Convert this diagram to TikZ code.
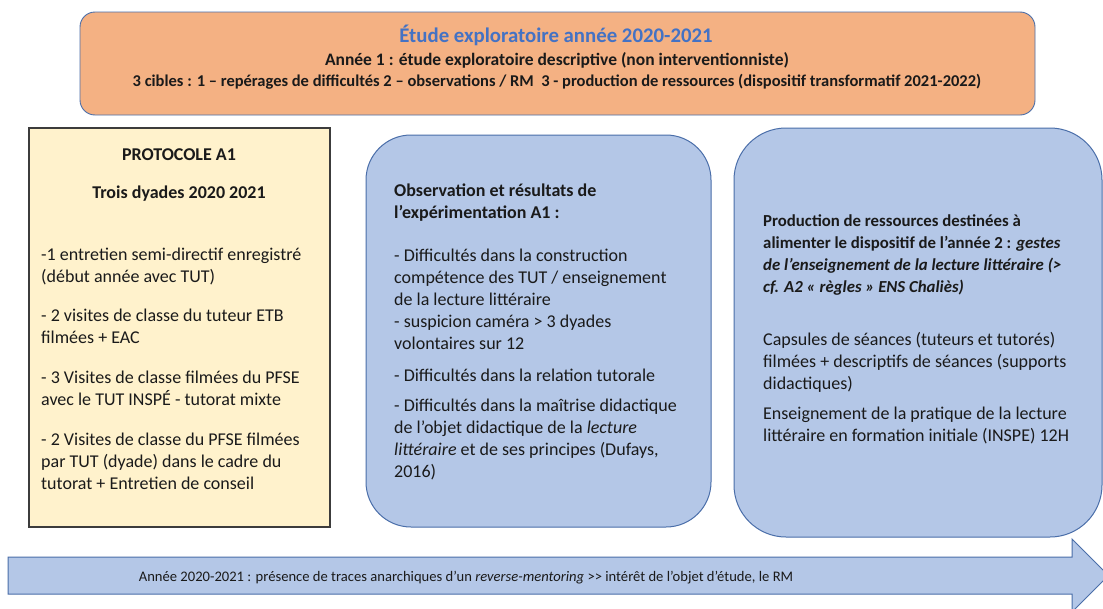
\documentclass[tikz,border=0pt]{standalone}
\usepackage{fontspec}
\setmainfont{Carlito}
\definecolor{orfill}{HTML}{F4B183}
\definecolor{yefill}{HTML}{FFF2CC}
\definecolor{blfill}{HTML}{B4C7E7}
\definecolor{bldraw}{HTML}{4A6EA9}
\definecolor{titleblue}{HTML}{4472C4}
\definecolor{greydraw}{HTML}{3C3C3C}
\definecolor{txt}{HTML}{1A1A1A}
\tikzset{
  boxbase/.style={inner sep=0pt, outer sep=0pt},
  orbox/.style={boxbase, draw=bldraw, line width=0.9pt, fill=orfill, rounded corners=15pt},
  yebox/.style={boxbase, draw=greydraw, line width=1.1pt, fill=yefill},
  blbox/.style={boxbase, draw=bldraw, line width=1pt, fill=blfill},
  body/.style={anchor=north west, inner sep=0pt, align=left, text=txt, font=\fontsize{18}{22}\selectfont},
  headtxt/.style={anchor=base, inner sep=0pt, text=txt},
}
\begin{document}
\begin{tikzpicture}[x=1pt,y=-1pt]
\useasboundingbox (0,0) rectangle (1103,608);
\fill[white] (0,0) rectangle (1103,608);

% top header box
\node[orbox, minimum width=955pt, minimum height=103pt] (top) at (557.5,63.5) {};
\node[anchor=base, inner sep=0pt, text=titleblue, font=\fontsize{20.8}{24}\selectfont\bfseries] (title) at (556,42) {Étude exploratoire année 2020-2021};
\node[headtxt, font=\fontsize{17.5}{20}\selectfont\bfseries] (line2) at (557,65) {Année 1 : étude exploratoire descriptive (non interventionniste)};
\node[headtxt, font=\fontsize{16.5}{20}\selectfont\bfseries] (line3) at (557,86) {3 cibles : 1 – repérages de difficultés 2 – observations / RM~ 3 - production de ressources (dispositif transformatif 2021-2022)};

% left box
\node[yebox, minimum width=301pt, minimum height=399pt] (left) at (179.5,327.5) {};
\node[anchor=base, inner sep=0pt, text=txt, font=\fontsize{18}{22}\selectfont\bfseries] (prot) at (179,160) {PROTOCOLE A1};
\node[anchor=base, inner sep=0pt, text=txt, font=\fontsize{18}{22}\selectfont\bfseries] (dyad) at (179,198) {Trois dyades 2020 2021};
\node[body] (l1) at (41,244.6) {\strut-1 entretien semi-directif enregistré\\(début année avec TUT)};
\node[body] (l2) at (41,305.6) {\strut- 2 visites de classe du tuteur ETB\\filmées + EAC};
\node[body] (l3) at (41,367.6) {\strut- 3 Visites de classe filmées du PFSE\\avec le TUT INSPÉ - tutorat mixte};
\node[body] (l4) at (41,429.6) {\strut- 2 Visites de classe du PFSE filmées\\par TUT (dyade) dans le cadre du\\tutorat + Entretien de conseil};

% middle box
\node[blbox, rounded corners=45pt, minimum width=345pt, minimum height=392pt] (mid) at (538.5,331) {};
\node[body, font=\fontsize{18}{22}\selectfont\bfseries] (m0) at (394,180.6) {\strut Observation et résultats de\\l’expérimentation A1 :};
\node[body] (m1) at (394,245.6) {\strut- Difficultés dans la construction\\compétence des TUT / enseignement\\de la lecture littéraire\\- suspicion caméra > 3 dyades\\volontaires sur 12};
\node[body] (m2) at (394,365.6) {\strut- Difficultés dans la relation tutorale};
\node[body] (m3) at (394,395.6) {\strut- Difficultés dans la maîtrise didactique\\de l’objet didactique de la \textit{lecture}\\\textit{littéraire} et de ses principes (Dufays,\\2016)};

% right box
\node[blbox, rounded corners=52pt, minimum width=368pt, minimum height=409pt] (right) at (918,332.5) {};
\node[body, font=\fontsize{16.8}{22}\selectfont\bfseries] (r0) at (763,210.6) {\strut Production de ressources destinées à\\alimenter le dispositif de l’année 2 : \textit{gestes}\\\textit{de l’enseignement de la lecture littéraire (>}\\\textit{cf. A2 « règles » ENS Chaliès)}};
\node[body] (r1) at (763,329.6) {\strut Capsules de séances (tuteurs et tutorés)\\filmées + descriptifs de séances (supports\\didactiques)};
\node[body] (r2) at (763,403.6) {\strut Enseignement de la pratique de la lecture\\littéraire en formation initiale (INSPE) 12H};

% bottom arrow
\coordinate (abl) at (8,557);
\coordinate (abr) at (8,594);
\draw[fill=blfill, draw=bldraw, line width=1pt]
  (abl) -- (1072,557) -- (1072,539) -- (1108.5,575.5) -- (1072,612) -- (1072,594) -- (abr) -- cycle;
\node[anchor=base, inner sep=0pt, text=txt, font=\fontsize{14.6}{17}\selectfont] (arrowtxt) at (466,581) {Année 2020-2021 : présence de traces anarchiques d’un \textit{reverse-mentoring} >{}> intérêt de l’objet d’étude, le RM};
\end{tikzpicture}
\end{document}
